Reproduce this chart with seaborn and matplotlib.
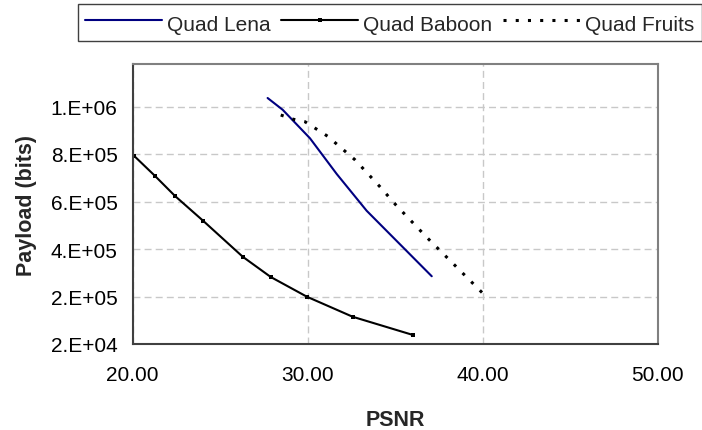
import matplotlib
matplotlib.use("Agg")
import matplotlib.pyplot as plt
import seaborn as sns
import pandas as pd

# values
lena_psnr = [27.72, 28.58, 30.14, 31.67, 33.38, 37.10]
lena_payload = [1004000, 957000, 843000, 700000, 553000, 291000]

baboon_psnr = [20.10, 21.29, 22.43, 24.05, 26.30, 27.90, 29.97, 32.58, 36.03]
baboon_payload = [772000, 692000, 612000, 512000, 369000, 288000, 209000, 129000, 56000]

fruits_psnr = [28.47, 29.19, 29.86, 31.15, 32.71, 34.14, 35.04, 36.81, 38.53, 40.10]
fruits_payload = [936000, 919000, 909000, 851000, 757000, 649000, 577000, 447000, 327000, 217000]

x_ticks = [20, 30, 40, 50]
x_labels = ["20.00", "30.00", "40.00", "50.00"]
y_ticks = [20000, 210000, 400000, 590000, 780000, 970000]
y_labels = ["2.E+04", "2.E+05", "4.E+05", "6.E+05", "8.E+05", "1.E+06"]

sns.set_style("white")
plt.rcParams["font.family"] = ["Liberation Sans", "DejaVu Sans"]

lena = pd.DataFrame({"psnr": lena_psnr, "payload": lena_payload})
baboon = pd.DataFrame({"psnr": baboon_psnr, "payload": baboon_payload})
fruits = pd.DataFrame({"psnr": fruits_psnr, "payload": fruits_payload})

fig = plt.figure(figsize=(7.02, 4.31), dpi=100)
ax = fig.add_axes([132.5 / 702, 1 - 345 / 431, 525 / 702, 280 / 431])

sns.lineplot(data=lena, x="psnr", y="payload", ax=ax, color="#000080", lw=1.5,
             sort=False, estimator=None, label="Quad Lena")
sns.lineplot(data=baboon, x="psnr", y="payload", ax=ax, color="black", lw=1.5,
             marker="s", markersize=2.6, markeredgewidth=0, sort=False, estimator=None,
             label="Quad Baboon")
sns.lineplot(data=fruits, x="psnr", y="payload", ax=ax, color="black", lw=2.2,
             linestyle=(0, (1, 3)), sort=False, estimator=None, label="Quad Fruits")

ax.set_xlim(20, 50)
ax.set_ylim(20000, 1140000)
ax.set_xticks(x_ticks)
ax.set_xticklabels(x_labels)
ax.set_yticks(y_ticks)
ax.set_yticklabels(y_labels)
ax.tick_params(axis="both", direction="out", length=4.8, width=1, color="#404040",
               labelsize=15, labelcolor="black")
ax.tick_params(axis="x", pad=10)
ax.tick_params(axis="y", pad=6)
ax.grid(True, color="#c8c8c8", lw=1, linestyle=(0, (5, 3)))

for side in ["left", "bottom"]:
    ax.spines[side].set_color("#404040")
    ax.spines[side].set_linewidth(1.5)
for side in ["top", "right"]:
    ax.spines[side].set_color("#808080")
    ax.spines[side].set_linewidth(1.5)

ax.set_xlabel("PSNR", fontsize=15.5, fontweight="bold", labelpad=18)
ax.set_ylabel("Payload (bits)", fontsize=15.5, fontweight="bold", labelpad=10)

handles, labels = ax.get_legend_handles_labels()
ax.get_legend().remove()
leg = fig.legend(handles, labels, loc="upper left", bbox_to_anchor=(78 / 702, 1 - 5 / 431),
                 ncol=3, fontsize=15, frameon=True, fancybox=False, framealpha=1,
                 edgecolor="#404040", handlelength=3.67, handleheight=1.3,
                 handletextpad=0.27, columnspacing=0.5, borderpad=0.35, borderaxespad=0)
leg.get_frame().set_linewidth(1)

fig.savefig("out.png", dpi=100)
